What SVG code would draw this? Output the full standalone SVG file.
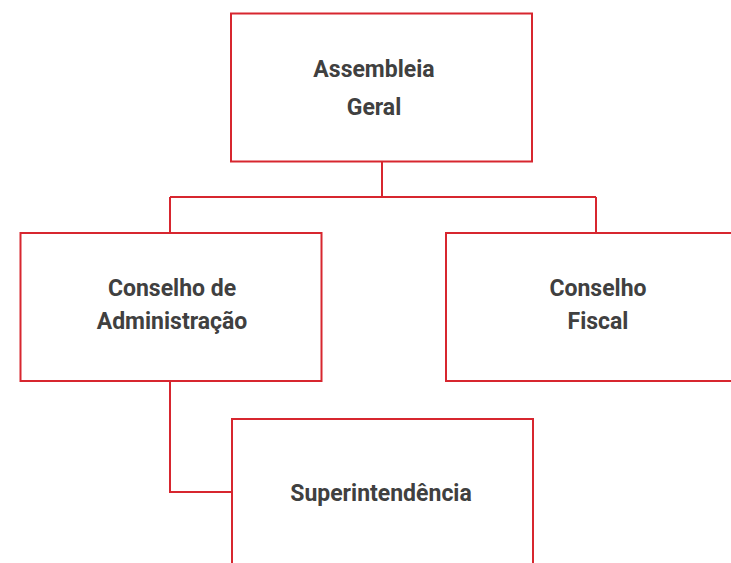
<svg xmlns="http://www.w3.org/2000/svg" width="731" height="563" viewBox="0 0 731 563">
<style>
.box{fill:#fff;stroke:#d7262f;stroke-width:2}
.con{fill:none;stroke:#d7262f;stroke-width:2}
.t{font-family:Roboto,"Liberation Sans",sans-serif;font-weight:700;font-size:23px;fill:#404040;text-anchor:middle}
</style>
<rect width="731" height="563" fill="#fff"/>
<g id="connectors">
<path class="con" d="M382 162V197M170 197H596M170 197V233M596 197V233"/>
<path class="con" d="M170 381V492H231"/>
</g>
<g id="assembleia">
<rect class="box" x="231" y="13.5" width="301" height="148"/>
<text class="t" x="374" y="76.5">Assembleia</text>
<text class="t" x="374" y="115">Geral</text>
</g>
<g id="conselho-admin">
<rect class="box" x="20.5" y="233" width="301" height="148"/>
<text class="t" x="172" y="295.5">Conselho de</text>
<text class="t" x="172" y="329">Administração</text>
</g>
<g id="conselho-fiscal">
<rect class="box" x="446" y="233" width="300" height="148"/>
<text class="t" x="598" y="295.5">Conselho</text>
<text class="t" x="598" y="329">Fiscal</text>
</g>
<g id="superintendencia">
<rect class="box" x="232" y="419" width="301" height="160"/>
<text class="t" x="381" y="501">Superintendência</text>
</g>
</svg>
